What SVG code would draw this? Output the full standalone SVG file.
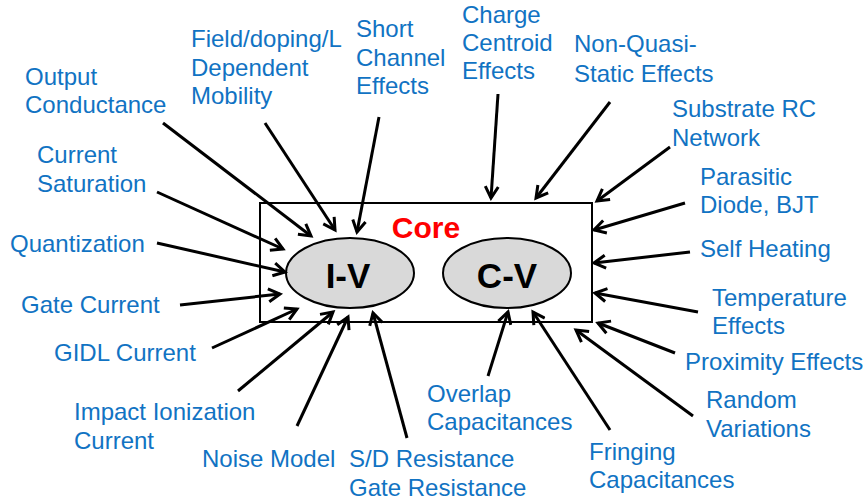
<svg xmlns="http://www.w3.org/2000/svg" width="867" height="502" viewBox="0 0 867 502">
<style>
.lbl{font-family:"Liberation Sans",Arial,sans-serif;font-size:24px;fill:#1173c3}
.big{font-family:"Liberation Sans",Arial,sans-serif;font-weight:bold;fill:#000;text-anchor:middle}
.ar{stroke:#000;stroke-width:3;fill:none;marker-end:url(#ah)}
.ell{fill:#d9d9d9;stroke:#000;stroke-width:2}
</style>
<defs>
<marker id="ah" markerUnits="userSpaceOnUse" markerWidth="16" markerHeight="16" viewBox="0 0 16 16" refX="13" refY="8" orient="auto">
<path d="M1.5,1.5 L13,8 L1.5,14.5" fill="none" stroke="#000" stroke-width="3"/>
</marker>
</defs>
<rect width="867" height="502" fill="#fff"/>
<g id="core">
<rect x="260" y="203" width="332" height="119" fill="#fff" stroke="#000" stroke-width="2"/>
<text x="426" y="238" class="big" style="fill:#ff0000;font-size:30px">Core</text>
</g>
<g id="iv">
<ellipse cx="350" cy="273" rx="64" ry="35" class="ell"/>
<text x="348" y="288" class="big" style="font-size:35px">I-V</text>
</g>
<g id="cv">
<ellipse cx="507" cy="273" rx="64" ry="35" class="ell"/>
<text x="507" y="288" class="big" style="font-size:35px">C-V</text>
</g>
<g id="connectors">
<line x1="163" y1="123" x2="311" y2="236" class="ar"/>
<line x1="157" y1="192" x2="283" y2="249" class="ar"/>
<line x1="157" y1="243" x2="285" y2="272" class="ar"/>
<line x1="180" y1="305" x2="280" y2="294" class="ar"/>
<line x1="212" y1="348" x2="297" y2="309" class="ar"/>
<line x1="238" y1="391" x2="333" y2="312" class="ar"/>
<line x1="297" y1="426" x2="348" y2="317" class="ar"/>
<line x1="407" y1="438" x2="373" y2="313" class="ar"/>
<line x1="265" y1="123" x2="335" y2="230" class="ar"/>
<line x1="379" y1="117" x2="357" y2="232" class="ar"/>
<line x1="498" y1="94" x2="491" y2="198" class="ar"/>
<line x1="610" y1="102" x2="536" y2="198" class="ar"/>
<line x1="670" y1="147" x2="597" y2="201" class="ar"/>
<line x1="685" y1="203" x2="594" y2="230" class="ar"/>
<line x1="690" y1="252" x2="594" y2="263" class="ar"/>
<line x1="698" y1="312" x2="595" y2="293" class="ar"/>
<line x1="675" y1="353" x2="598" y2="323" class="ar"/>
<line x1="693" y1="416" x2="576" y2="330" class="ar"/>
<line x1="610" y1="430" x2="533" y2="312" class="ar"/>
<line x1="488" y1="376" x2="508" y2="312" class="ar"/>
</g>
<g id="output-conductance"><text class="lbl" x="25" y="85">Output</text><text class="lbl" x="25" y="113">Conductance</text></g>
<g id="current-saturation"><text class="lbl" x="37" y="163">Current</text><text class="lbl" x="37" y="192">Saturation</text></g>
<g id="quantization"><text class="lbl" x="10" y="252">Quantization</text></g>
<g id="gate-current"><text class="lbl" x="21" y="313">Gate Current</text></g>
<g id="gidl-current"><text class="lbl" x="54" y="361">GIDL Current</text></g>
<g id="impact-ionization"><text class="lbl" x="74" y="420">Impact Ionization</text><text class="lbl" x="74" y="449">Current</text></g>
<g id="noise-model"><text class="lbl" x="202" y="467">Noise Model</text></g>
<g id="sd-resistance"><text class="lbl" x="349" y="467">S/D Resistance</text><text class="lbl" x="349" y="496">Gate Resistance</text></g>
<g id="field-mobility"><text class="lbl" x="191" y="47">Field/doping/L</text><text class="lbl" x="191" y="76">Dependent</text><text class="lbl" x="191" y="104">Mobility</text></g>
<g id="short-channel"><text class="lbl" x="356" y="37">Short</text><text class="lbl" x="356" y="66">Channel</text><text class="lbl" x="356" y="94">Effects</text></g>
<g id="charge-centroid"><text class="lbl" x="462" y="23">Charge</text><text class="lbl" x="462" y="51">Centroid</text><text class="lbl" x="462" y="79">Effects</text></g>
<g id="non-quasi-static"><text class="lbl" x="574" y="52">Non-Quasi-</text><text class="lbl" x="574" y="82">Static Effects</text></g>
<g id="substrate-rc"><text class="lbl" x="672" y="117">Substrate RC</text><text class="lbl" x="672" y="146">Network</text></g>
<g id="parasitic"><text class="lbl" x="700" y="185">Parasitic</text><text class="lbl" x="700" y="213">Diode, BJT</text></g>
<g id="self-heating"><text class="lbl" x="700" y="257">Self Heating</text></g>
<g id="temperature"><text class="lbl" x="712" y="306">Temperature</text><text class="lbl" x="712" y="334">Effects</text></g>
<g id="proximity"><text class="lbl" x="685" y="370">Proximity Effects</text></g>
<g id="random-variations"><text class="lbl" x="706" y="408">Random</text><text class="lbl" x="706" y="437">Variations</text></g>
<g id="fringing"><text class="lbl" x="589" y="460">Fringing</text><text class="lbl" x="589" y="488">Capacitances</text></g>
<g id="overlap"><text class="lbl" x="427" y="402">Overlap</text><text class="lbl" x="427" y="430">Capacitances</text></g>
</svg>
